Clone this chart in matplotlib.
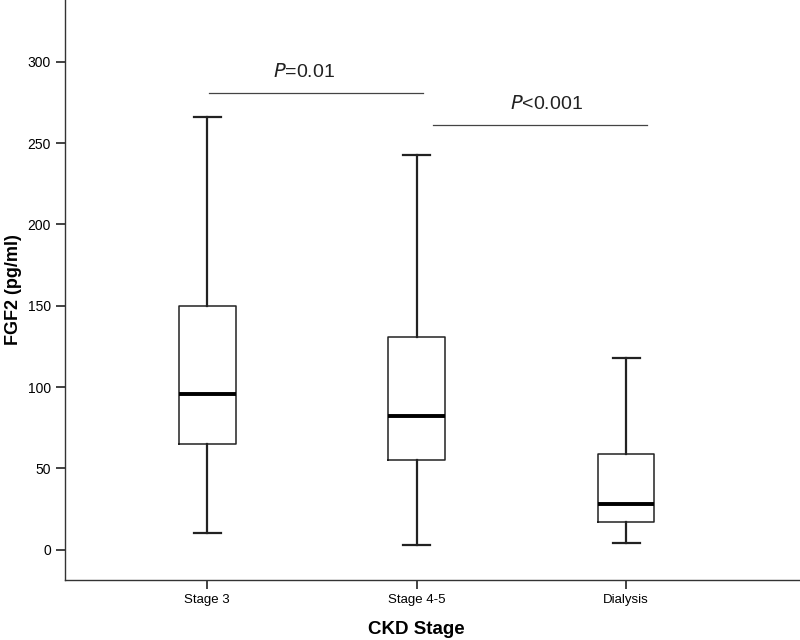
import matplotlib
matplotlib.use("Agg")
import matplotlib.pyplot as plt

plt.rcParams["font.family"] = ["Liberation Sans", "DejaVu Sans"]

# Box statistics (pg/ml)
groups = ["Stage 3", "Stage 4-5", "Dialysis"]
whisker_low = [10, 3, 4]
q1 = [65, 55, 17]
median = [96, 82, 28]
q3 = [150, 131, 59]
whisker_high = [266, 243, 118]

# Significance brackets: x span, height, label
sig_x0 = [1.01, 2.08]
sig_x1 = [2.03, 3.10]
sig_y = [281, 261]
sig_text_x = [1.46, 2.62]
sig_labels = [("P", "=0.01"), ("P", "<0.001")]

stats = [
    {"whislo": lo, "q1": a, "med": m, "q3": b, "whishi": hi, "label": g}
    for g, lo, a, m, b, hi in zip(groups, whisker_low, q1, median, q3, whisker_high)
]

fig = plt.figure(figsize=(8, 6.4), dpi=100)
ax = fig.add_axes([0.081, 0.094, 0.919, 0.906])

ax.bxp(
    stats, positions=[1, 2, 3], widths=0.27, showfliers=False,
    boxprops=dict(color="#222222", linewidth=1.1),
    medianprops=dict(color="black", linewidth=2.8),
    whiskerprops=dict(color="#222222", linewidth=1.6),
    capprops=dict(color="#222222", linewidth=1.6),
    capwidths=0.13,
)

for x0, x1, y, tx, (p, rest) in zip(sig_x0, sig_x1, sig_y, sig_text_x, sig_labels):
    ax.plot([x0, x1], [y, y], color="#444444", linewidth=0.9)
    ax.text(tx, y + 13, r"$\it{" + p + "}$" + rest, ha="center", va="center",
            fontsize=14, color="#222222")

ax.set_xlim(0.32, 3.83)
ax.set_ylim(-18.5, 338)
ax.set_yticks([0, 50, 100, 150, 200, 250, 300])
ax.set_xticks([1, 2, 3])
ax.set_xticklabels(groups)

for side in ["top", "right"]:
    ax.spines[side].set_visible(False)
for side in ["left", "bottom"]:
    ax.spines[side].set_color("#333333")
    ax.spines[side].set_linewidth(1.0)

ax.tick_params(axis="both", length=6.5, width=1.2, color="#222222", labelsize=10)
ax.tick_params(axis="x", labelsize=9.5)
ax.set_ylabel("FGF2 (pg/ml)", fontsize=13, fontweight="bold")
ax.set_xlabel("CKD Stage", fontsize=13.5, fontweight="bold")
ax.yaxis.set_label_coords(-0.058, 0.5)
ax.xaxis.set_label_coords(0.478, -0.071)

fig.savefig("out.png", dpi=100)
